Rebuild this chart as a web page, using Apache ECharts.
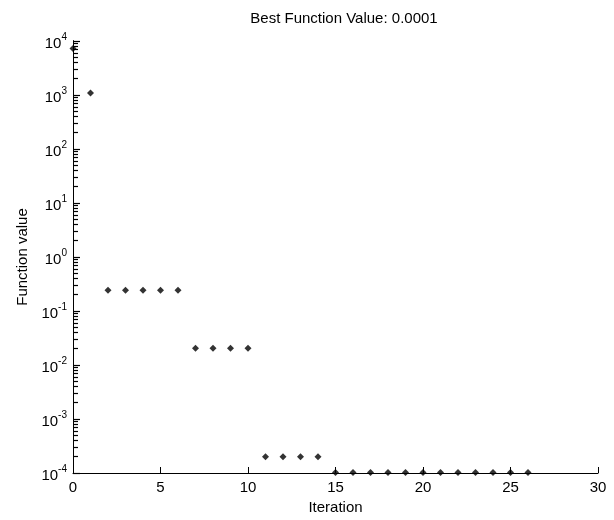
<!DOCTYPE html>
<html>
<head>
<meta charset="utf-8">
<script src="https://cdn.jsdelivr.net/npm/echarts@6/dist/echarts.min.js"></script>
<style>
  html, body { margin: 0; padding: 0; background: #fff; }
  #chart { width: 614px; height: 520px; }
</style>
</head>
<body>
<div id="chart"></div>
<script>
// iteration number and best function value at each iteration
const iterations = [0, 1, 2, 3, 4, 5, 6, 7, 8, 9, 10, 11, 12, 13, 14, 15, 16, 17, 18, 19, 20, 21, 22, 23, 24, 25, 26];
const fvals = [7300, 1090, 0.242, 0.242, 0.242, 0.242, 0.242, 0.0205, 0.0205, 0.0205, 0.0205,
  0.0002, 0.0002, 0.0002, 0.0002, 0.000102, 0.000102, 0.000102, 0.000102, 0.000102, 0.000102,
  0.000102, 0.000102, 0.000102, 0.000102, 0.000102, 0.000102];
const xTicks = [0, 5, 10, 15, 20, 25, 30];
const yExponents = [-4, -3, -2, -1, 0, 1, 2, 3, 4];

const chart = echarts.init(document.getElementById('chart'));

// tick positions in decades (log10) for the overlay tick axes
const minorTicks = [];
for (let e = -4; e < 4; e++) {
  for (let k = 2; k <= 9; k++) minorTicks.push(e + Math.log10(k));
}

const font = 'Liberation Sans, Arial, sans-serif';
// ticks only render with the axis line on, so these overlay the same line
const tickAxis = (len, vals) => ({
  type: 'value', min: -4, max: 4, position: 'left',
  axisLine: { show: true, onZero: false, lineStyle: { color: '#000', width: 1 } },
  axisTick: { show: true, inside: true, length: len, lineStyle: { color: '#000', width: 1.2 }, customValues: vals },
  axisLabel: { show: false },
  splitLine: { show: false }
});

chart.setOption({
  backgroundColor: '#fff',
  animation: false,
  title: {
    text: 'Best Function Value: 0.0001',
    left: 339, top: 6, textAlign: 'center',
    textStyle: { fontFamily: font, fontSize: 15, fontWeight: 'normal', color: '#000' }
  },
  grid: { left: 73, right: 16, top: 41, bottom: 41 },
  xAxis: {
    type: 'value', min: 0, max: 30, interval: 5,
    name: 'Iteration', nameLocation: 'middle', nameGap: 27,
    nameTextStyle: { fontFamily: font, fontSize: 15, color: '#000' },
    axisLine: { onZero: false, lineStyle: { color: '#000', width: 1 } },
    axisTick: { show: true, inside: true, length: 6, lineStyle: { color: '#000', width: 1 } },
    axisLabel: { fontFamily: font, fontSize: 15, color: '#000', margin: 7 },
    splitLine: { show: false }
  },
  yAxis: [{
    type: 'log', logBase: 10, min: 1e-4, max: 1e4,
    name: 'Function value', nameLocation: 'middle', nameGap: 43, nameRotate: 90,
    nameTextStyle: { fontFamily: font, fontSize: 15, color: '#000' },
    axisLine: { show: true, onZero: false, lineStyle: { color: '#000', width: 1 } },
    axisTick: { show: false },
    axisLabel: {
      margin: 6,
      formatter: v => '{b|10}{e|' + Math.round(Math.log10(v)) + '}',
      rich: {
        b: { fontFamily: font, fontSize: 15, color: '#000', padding: [6, 0, 0, 0] },
        e: { fontFamily: font, fontSize: 10, color: '#000', padding: [0, 0, 7, 0] }
      }
    },
    splitLine: { show: false }
  },
  tickAxis(7, yExponents),
  tickAxis(5, minorTicks)],
  series: [{
    type: 'scatter',
    yAxisIndex: 0,
    symbol: 'diamond',
    symbolSize: 7,
    itemStyle: { color: '#000' },
    data: iterations.map((x, i) => [x, fvals[i]])
  }]
});
</script>
</body>
</html>
